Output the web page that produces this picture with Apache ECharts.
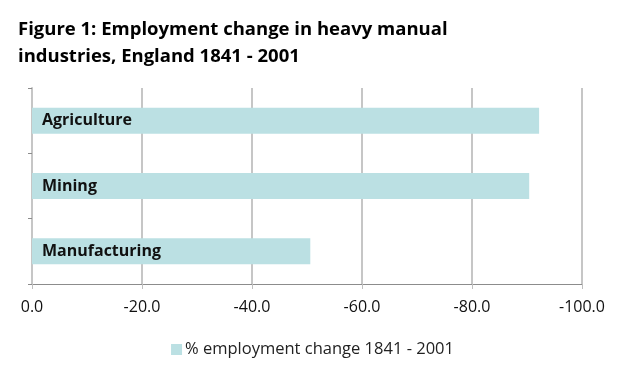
<!DOCTYPE html>
<html><head><meta charset="utf-8">
<script src="https://cdn.jsdelivr.net/npm/echarts@6/dist/echarts.min.js"></script>
<style>html,body{margin:0;padding:0;background:#fff}#c{width:625px;height:375px}</style>
</head><body><div id="c"></div>
<script>
const categories = ['Agriculture', 'Mining', 'Manufacturing'];
const values = [-92.2, -90.4, -50.6];
const seriesName = '% employment change 1841 - 2001';
const titleText = 'Figure 1: Employment change in heavy manual\nindustries, England 1841 - 2001';
const xTicks = [0, -20, -40, -60, -80, -100];

const font = '"Open Sans", "Liberation Sans", sans-serif';
const chart = echarts.init(document.getElementById('c'));
chart.setOption({
  animation: false,
  title: {
    text: titleText, left: 13, top: 11,
    textStyle: { fontFamily: font, fontSize: 18.5, fontWeight: 'bold', color: '#000', lineHeight: 27 }
  },
  legend: {
    top: 336, left: 'center', icon: 'rect', itemWidth: 11, itemHeight: 11, itemGap: 4,
    textStyle: { fontFamily: font, fontSize: 16.5, color: '#222', padding: [0, 0, 0, -2] },
    data: [seriesName]
  },
  grid: { left: 32, right: 43, top: 88, bottom: 91, containLabel: false },
  xAxis: {
    type: 'value', inverse: true, min: -100, max: 0, interval: 20,
    axisLine: { show: true, lineStyle: { color: '#8c8c8c', width: 1 } },
    axisTick: { show: true, length: 5, lineStyle: { color: '#bfbfbf' } },
    splitLine: { show: true, lineStyle: { color: '#c6c6c6', width: 2 } },
    axisLabel: { fontFamily: font, fontSize: 16, color: '#111', margin: 15,
      formatter: v => v.toFixed(1) }
  },
  yAxis: {
    type: 'category', inverse: true, data: categories,
    axisLine: { show: true, lineStyle: { color: '#c6c6c6', width: 2 } },
    axisTick: { show: true, length: 4, lineStyle: { color: '#8c8c8c' } },
    axisLabel: { show: false }
  },
  series: [{
    name: seriesName, type: 'bar', data: values, barWidth: 26,
    itemStyle: { color: '#bbe0e3' },
    label: { show: true, position: 'insideLeft', offset: [5, 0], formatter: '{b}',
      fontFamily: font, fontSize: 16, fontWeight: 'bold', color: '#111' }
  }]
});
</script></body></html>
